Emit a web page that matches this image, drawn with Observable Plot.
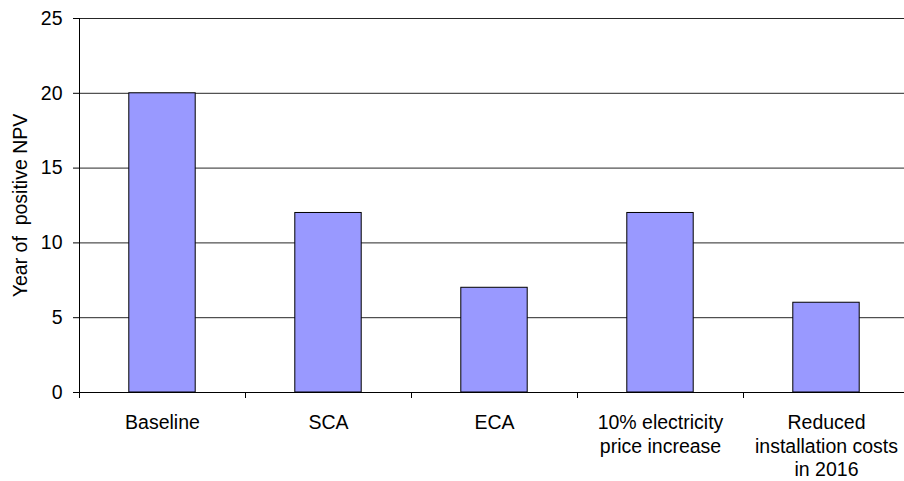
<!DOCTYPE html>
<html>
<head>
<meta charset="utf-8">
<script src="https://cdn.jsdelivr.net/npm/d3@7"></script>
<script src="https://cdn.jsdelivr.net/npm/@observablehq/plot@0.6"></script>
<style>
  html, body { margin: 0; padding: 0; background: #fff; }
  svg text { white-space: pre; }
</style>
</head>
<body>
<div id="chart"></div>
<script>
// Scenarios and the year in which each one's NPV turns positive
const categories = [
  "Baseline",
  "SCA",
  "ECA",
  "10% electricity\nprice increase",
  "Reduced\ninstallation costs\nin 2016"
];
const years = [20, 12, 7, 12, 6];
const yTicks = [0, 5, 10, 15, 20, 25];
const yLabel = "Year of  positive NPV";

const rows = categories.map((name, i) => ({name, i, year: years[i]}));
const font = "Liberation Sans, Arial, Helvetica, sans-serif";

const chart = Plot.plot({
  width: 904,
  height: 481,
  marginTop: 18,
  marginBottom: 89,
  marginLeft: 79,
  marginRight: 0,
  style: {fontFamily: font, fontSize: "19.5px", background: "#fff", color: "#000"},
  x: {domain: [0, categories.length], range: [79, 909]},
  y: {domain: [0, 25], range: [392, 18]},
  marks: [
    // horizontal gridlines
    Plot.ruleY(yTicks.filter(d => d > 0), {stroke: "#000", strokeWidth: 1, strokeOpacity: 0.85}),
    // bars, centred in each category slot
    Plot.rectY(rows, {
      x1: d => d.i + 0.3,
      x2: d => d.i + 0.7,
      y1: 0,
      y2: "year",
      fill: "#9999FF",
      stroke: "#000",
      strokeWidth: 1
    }),
    // y axis
    Plot.axisY({
      ticks: yTicks,
      tickSize: 6,
      tickPadding: 11,
      fontSize: 19.5,
      label: null,
      stroke: "#000"
    }),
    Plot.ruleX([0], {y1: 0, y2: 25, stroke: "#000"}),
    // x axis: tick marks at slot boundaries, category names below
    Plot.axisX({
      ticks: d3.range(0, categories.length + 1),
      tickSize: 6,
      tickFormat: () => "",
      label: null,
      stroke: "#000"
    }),
    Plot.ruleY([0], {stroke: "#000", strokeWidth: 1.2}),
    Plot.text(rows, {
      x: d => d.i + 0.5,
      y: 0,
      text: "name",
      dy: 20,
      lineAnchor: "top",
      lineHeight: 1.2,
      fontSize: 19.5,
      fill: "#000"
    }),
    Plot.text([yLabel], {
      frameAnchor: "left",
      textAnchor: "middle",
      dx: -59,
      rotate: -90,
      fontSize: 19.5,
      fill: "#000"
    })
  ]
});

document.getElementById("chart").appendChild(chart);
</script>
</body>
</html>
